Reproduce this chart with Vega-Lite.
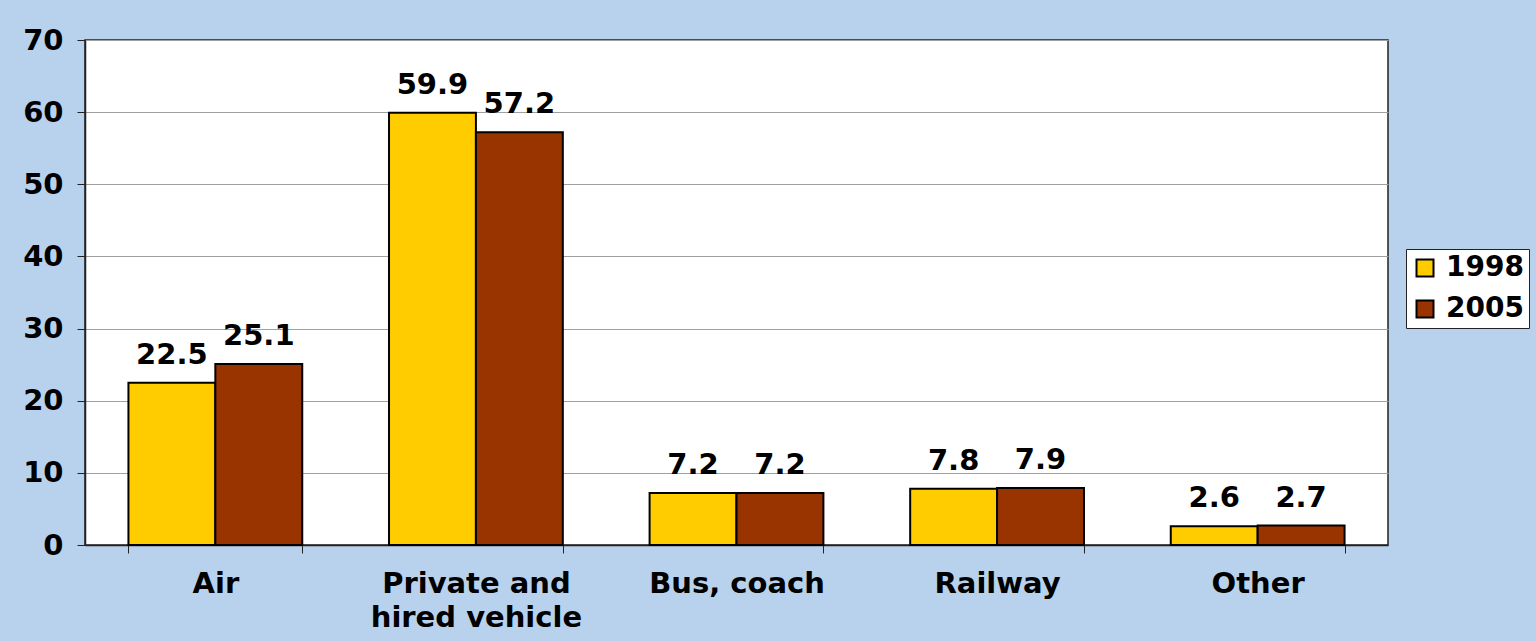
{
  "$schema": "https://vega.github.io/schema/vega-lite/v6.json",
  "width": 1303,
  "height": 505,
  "autosize": {"type": "none"},
  "padding": {"left": 85, "top": 40, "right": 148, "bottom": 96},
  "background": "#b8d2ee",
  "config": {
    "font": "DejaVu Sans",
    "view": {"fill": "white", "stroke": "#222222", "strokeWidth": 1.5}
  },
  "data": {
    "values": [
      {"mode": "Air", "year": "1998", "value": 22.5},
      {"mode": "Air", "year": "2005", "value": 25.1},
      {"mode": "Private and hired vehicle", "year": "1998", "value": 59.9},
      {"mode": "Private and hired vehicle", "year": "2005", "value": 57.2},
      {"mode": "Bus, coach", "year": "1998", "value": 7.2},
      {"mode": "Bus, coach", "year": "2005", "value": 7.2},
      {"mode": "Railway", "year": "1998", "value": 7.8},
      {"mode": "Railway", "year": "2005", "value": 7.9},
      {"mode": "Other", "year": "1998", "value": 2.6},
      {"mode": "Other", "year": "2005", "value": 2.7}
    ]
  },
  "encoding": {
    "x": {
      "field": "mode",
      "type": "nominal",
      "sort": ["Air", "Private and hired vehicle", "Bus, coach", "Railway", "Other"],
      "scale": {"paddingInner": 0.333, "paddingOuter": 0.1667},
      "axis": {
        "title": null,
        "labelAngle": 0,
        "labelFontSize": 29,
        "labelFontWeight": "bold",
        "labelColor": "black",
        "labelLineHeight": 34,
        "labelPadding": 16,
        "labelLimit": 0,
        "labelExpr": "datum.label == 'Private and hired vehicle' ? ['Private and', 'hired vehicle'] : datum.label",
        "tickBand": "extent",
        "tickSize": 8,
        "tickColor": "#222222",
        "domainColor": "#222222",
        "domainWidth": 1.5,
        "grid": false
      }
    },
    "xOffset": {
      "field": "year",
      "type": "nominal",
      "scale": {"paddingInner": 0, "paddingOuter": 0}
    },
    "y": {
      "field": "value",
      "type": "quantitative",
      "scale": {"domain": [0, 70]},
      "axis": {
        "title": null,
        "values": [0, 10, 20, 30, 40, 50, 60, 70],
        "labelFontSize": 29,
        "labelFontWeight": "bold",
        "labelColor": "black",
        "labelPadding": 14,
        "tickSize": 8,
        "tickColor": "#222222",
        "domainColor": "#222222",
        "domainWidth": 1.5,
        "gridColor": "#a0a0a0",
        "gridWidth": 1
      }
    }
  },
  "layer": [
    {
      "mark": {"type": "bar", "stroke": "black", "strokeWidth": 2},
      "encoding": {
        "color": {
          "field": "year",
          "type": "nominal",
          "scale": {"domain": ["1998", "2005"], "range": ["#FFCC00", "#993300"]},
          "legend": {
            "title": null,
            "orient": "none",
            "legendX": 1321,
            "legendY": 209,
            "fillColor": "white",
            "strokeColor": "#222222",
            "padding": 5,
            "symbolType": "square",
            "symbolSize": 289,
            "symbolStrokeColor": "black",
            "symbolStrokeWidth": 2,
            "symbolOpacity": 1,
            "labelFontSize": 28,
            "labelFontWeight": "bold",
            "labelColor": "black",
            "rowPadding": 13,
            "labelOffset": 7
          }
        }
      }
    },
    {
      "mark": {"type": "text", "fontSize": 29, "fontWeight": "bold", "baseline": "alphabetic", "dy": -19, "color": "black"},
      "encoding": {"text": {"field": "value", "type": "quantitative", "format": ".1f"}}
    }
  ]
}
